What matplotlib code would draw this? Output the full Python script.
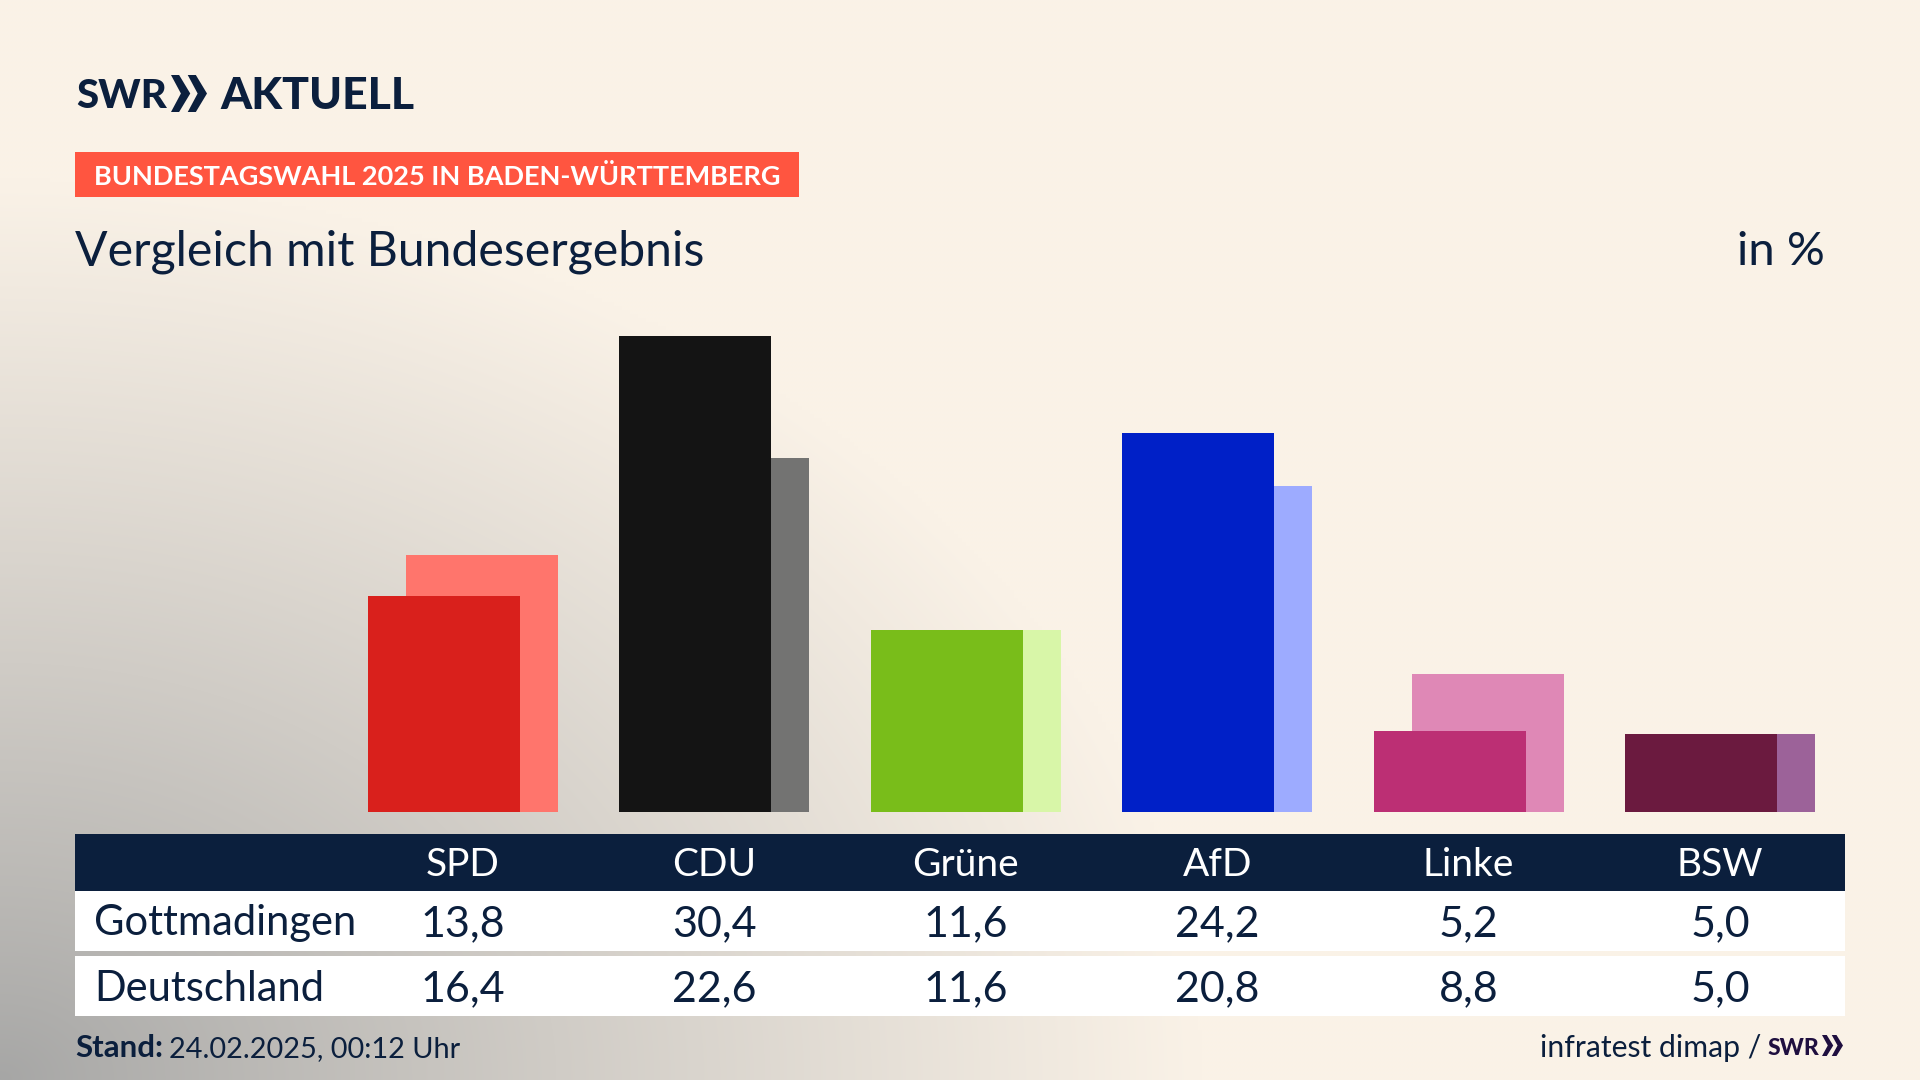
"""SWR Aktuell graphic: Bundestagswahl 2025, Gottmadingen vs Deutschland."""
import numpy as np
import matplotlib
matplotlib.use('Agg')
import matplotlib.pyplot as plt
from matplotlib.patches import Polygon, Rectangle

plt.rcParams['font.family'] = ['Lato', 'Noto Sans', 'DejaVu Sans']

parties = ['SPD', 'CDU', 'Grüne', 'AfD', 'Linke', 'BSW']
local_vals = [13.8, 30.4, 11.6, 24.2, 5.2, 5.0]
national_vals = [16.4, 22.6, 11.6, 20.8, 8.8, 5.0]
local_colors = ['#D9201C', '#141414', '#79BD1A', '#0020C7', '#BC2F74', '#6B1A3F']
national_colors = ['#FF756C', '#737372', '#D8F6A8', '#9DABFF', '#DF88B6', '#9C6299']
row_labels = ['Gottmadingen', 'Deutschland']

NAVY = '#0B1F3D'
W, H = 1920, 1080
STEP = 251.4           # px between two parties
BAR_W = 152 / STEP     # front bar width in axis units
OFFSET = 38 / STEP     # national bar sits a bit to the right
PX_PER_PCT = 15.67


def comma(v):
    return f'{v:.1f}'.replace('.', ',')


def chevrons(ax, x0, y0, x1, y1, color):
    # the >> of the SWR logo
    w = (x1 - x0) / 2
    h = y1 - y0
    for x in (x0, x0 + w * 0.93):
        ax.add_patch(Polygon([(x, y0), (x + w * 0.45, y0), (x + w * 1.07, y0 + h / 2),
                              (x + w * 0.45, y1), (x, y1), (x + w * 0.55, y0 + h / 2)],
                             closed=True, fc=color, ec='none'))


fig = plt.figure(figsize=(W / 100, H / 100), dpi=100)
bg = fig.add_axes([0, 0, 1, 1])
bg.set_xlim(0, W)
bg.set_ylim(H, 0)
bg.axis('off')

# cream background, grey glow out of the bottom left corner
xx, yy = np.meshgrid(np.linspace(0, W, 480), np.linspace(0, H, 270))
t = np.clip(np.sqrt((xx / 1200) ** 2 + ((H - yy) / 900) ** 2), 0, 1) ** 0.9
cream = np.array([250, 242, 231]) / 255
grey = np.array([166, 166, 165]) / 255
img = grey + (cream - grey) * t[..., None]
bg.imshow(img, extent=(0, W, H, 0), aspect='auto', interpolation='bilinear', zorder=0)
bg.set_xlim(0, W)
bg.set_ylim(H, 0)

# logo
bg.text(76, 108, 'SWR', fontsize=29, fontweight='black', color=NAVY, va='baseline', ha='left')
chevrons(bg, 171, 75, 207, 112, NAVY)
bg.text(220, 109, 'AKTUELL', fontsize=32, fontweight='black', color=NAVY, va='baseline', ha='left')

# banner + headings
bg.add_patch(Rectangle((75, 152), 724, 45, fc='#FF5540', ec='none'))
bg.text(94, 185, 'BUNDESTAGSWAHL 2025 IN BADEN-WÜRTTEMBERG', fontsize=19.5, fontweight='bold',
        color='white', va='baseline', ha='left')
bg.text(75, 265, 'Vergleich mit Bundesergebnis', fontsize=34.7, color=NAVY, va='baseline', ha='left')
bg.text(1825, 265, 'in %', fontsize=34, color=NAVY, va='baseline', ha='right')

# bars
left, right, base, top = 300, 1900, 812, 300
ax = fig.add_axes([left / W, 1 - base / H, (right - left) / W, (base - top) / H])
ax.patch.set_alpha(0)
ax.axis('off')
ax.set_xlim((left - 444) / STEP, (right - 444) / STEP)
ax.set_ylim(0, (base - top) / PX_PER_PCT)
pos = np.arange(len(parties))
ax.bar(pos + OFFSET, national_vals, BAR_W, color=national_colors, zorder=1)
ax.bar(pos, local_vals, BAR_W, color=local_colors, zorder=2)

# table
bg.add_patch(Rectangle((75, 834), 1770, 57, fc=NAVY, ec='none'))
bg.add_patch(Rectangle((75, 891), 1770, 60, fc='white', ec='none'))
bg.add_patch(Rectangle((75, 956), 1770, 60, fc='white', ec='none'))
bg.text(94, 935, row_labels[0], fontsize=30, color=NAVY, va='baseline', ha='left')
bg.text(94, 1001, row_labels[1], fontsize=30, color=NAVY, va='baseline', ha='left')
for i, p in enumerate(parties):
    xc = 463 + STEP * i
    bg.text(xc, 876, p, fontsize=28, color='white', va='baseline', ha='center')
    bg.text(xc, 936, comma(local_vals[i]), fontsize=31, color=NAVY, va='baseline', ha='center')
    bg.text(xc, 1001, comma(national_vals[i]), fontsize=31, color=NAVY, va='baseline', ha='center')

# footer
bg.text(75, 1057, 'Stand:', fontsize=22.5, fontweight='bold', color=NAVY, va='baseline', ha='left')
bg.text(169, 1057, '24.02.2025, 00:12 Uhr', fontsize=20.8, color=NAVY, va='baseline', ha='left')
bg.text(1761, 1057, 'infratest dimap /', fontsize=21.7, color=NAVY, va='baseline', ha='right')
bg.text(1768, 1055, 'SWR', fontsize=16.5, fontweight='black', color='#1F0F3F', va='baseline', ha='left')
chevrons(bg, 1822, 1035, 1843, 1056, '#1F0F3F')

fig.savefig('out.png', dpi=100)
